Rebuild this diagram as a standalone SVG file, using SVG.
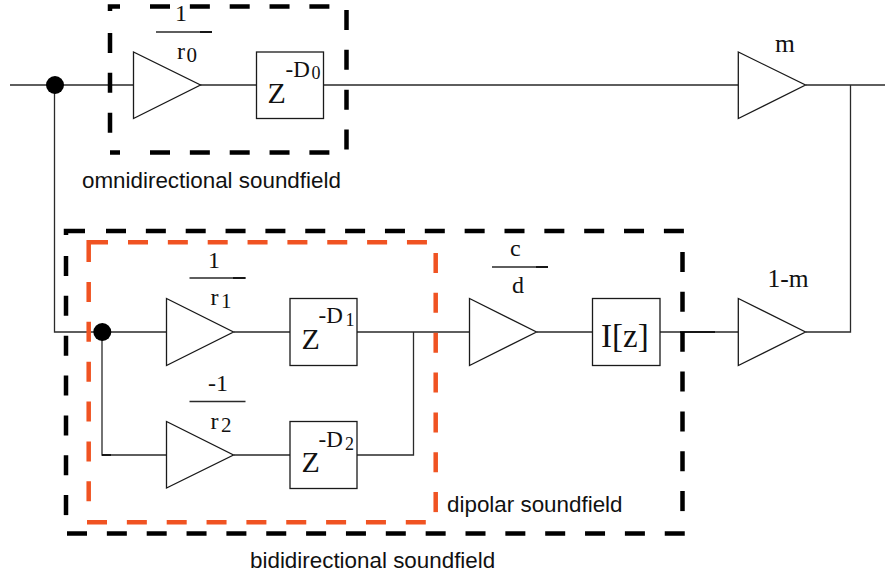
<svg xmlns="http://www.w3.org/2000/svg" width="885" height="578" viewBox="0 0 885 578">
<style>
.w{fill:none;stroke:#2a2a2a;stroke-width:1.3}
.d{fill:none;stroke:#000;stroke-width:1.6}
.s{fill:#fff;stroke:#1a1a1a;stroke-width:1.3}
.k{fill:none;stroke:#000;stroke-width:4.5;stroke-dasharray:20 19.85}
.r{fill:none;stroke:#f05322;stroke-width:4.5;stroke-dasharray:20 19.85}
.c{fill:none;stroke:#000;stroke-width:4.5}
.o{fill:none;stroke:#f05322;stroke-width:4.5}
text{fill:#111}
.t,.b,.e,.n,.q,.z,.i{font-family:"Liberation Serif","Times New Roman",serif}
.t{font-size:24px}
.b{font-size:25.500px}
.e{font-size:23px}
.n{font-size:18px}
.q{font-size:21px}
.z{font-size:30px}
.i{font-size:33px}
.l{font-family:"Liberation Sans",Arial,sans-serif;font-size:22.4px}
</style>
<g id="connectors">
<path class="w" d="M10 85H738M805.500 85H885M850.500 85V332H805.500"/>
<path class="w" d="M54.500 85V332H166.500M102 332V455H166.500"/>
<path class="w" d="M233.500 332H290M357 332H469.500M536.500 332H592.500M660 332H738"/>
<path class="w" d="M233.500 455H290M357 455H413.500V332"/>
<path class="w" d="M156 32H212M189.500 278H245.500M189.500 401.500H245.500M492 267H548"/>
<path class="d" d="M200 32H212M233 278H245.500M102 455H111M536 267H548M680 332H715"/>
</g>
<g id="junction-1"><circle cx="55" cy="85" r="9" fill="#000"/></g>
<g id="junction-2"><circle cx="102.300" cy="332" r="9" fill="#000"/></g>
<g id="frame-omni">
<path class="c" d="M110 11V6.500H120"/>
<path class="k" d="M150 6.500H335"/>
<path class="k" d="M346.500 10V151"/>
<path class="c" d="M110 152.500H120"/>
<path class="k" d="M150 152.500H335"/>
<path class="k" d="M110 33V133"/>
</g>
<g id="frame-bi">
<path class="c" d="M66 235V231H85"/>
<path class="k" d="M106 231H684"/>
<path class="k" d="M682.500 252V512"/>
<path class="k" d="M67 533.500H686"/>
<path class="k" d="M66 256V516"/>
</g>
<g id="frame-dipolar">
<path class="o" d="M88.700 262V242.300H108"/>
<path class="r" d="M128 242.300H428"/>
<path class="r" d="M435.700 253V514"/>
<path class="r" d="M87 522.300H427"/>
<path class="r" d="M88.700 282V503"/>
</g>
<g id="gain-r0"><path class="s" d="M133.500 52V118.500L200.500 85Z"/><text class="t" x="175" y="21">1</text><text class="t" x="177" y="59">r</text><text class="q" x="186.500" y="62">0</text></g>
<g id="delay-0"><rect class="s" x="256.500" y="52" width="67" height="66.500"/><text class="z" x="267.500" y="103">Z</text><text class="e" x="285.500" y="77">-D</text><text class="n" x="311.500" y="79">0</text></g>
<g id="gain-m"><path class="s" d="M738.300 52V118.500L805.500 85Z"/><text class="b" x="775" y="52">m</text></g>
<g id="gain-r1"><path class="s" d="M166.500 298.500V365.500L233.500 332Z"/><text class="t" x="208" y="268">1</text><text class="t" x="210.500" y="305">r</text><text class="q" x="221" y="308">1</text></g>
<g id="delay-1"><rect class="s" x="290" y="298.500" width="67" height="67"/><text class="z" x="301.500" y="349">Z</text><text class="e" x="318.500" y="323">-D</text><text class="n" x="345.500" y="326">1</text></g>
<g id="gain-r2"><path class="s" d="M166.500 421.500V488L233.500 455Z"/><text class="t" x="208" y="391">-1</text><text class="t" x="210.500" y="429">r</text><text class="q" x="221" y="432">2</text></g>
<g id="delay-2"><rect class="s" x="290" y="421.500" width="67" height="67"/><text class="z" x="301.500" y="472">Z</text><text class="e" x="318.500" y="447">-D</text><text class="n" x="345" y="450">2</text></g>
<g id="gain-cd"><path class="s" d="M469.500 298.500V365.500L536.500 332Z"/><text class="t" x="510" y="256">c</text><text class="t" x="512" y="293">d</text></g>
<g id="integrator"><rect class="s" x="592.500" y="298.500" width="67.500" height="67"/><text class="i" x="601" y="347">I[z]</text></g>
<g id="gain-1m"><path class="s" d="M738.300 298.500V365.500L805.500 332Z"/><text class="b" x="767.500" y="287">1-m</text></g>
<text class="l" id="label-omni" x="82" y="188">omnidirectional soundfield</text>
<text class="l" id="label-dipolar" x="447" y="512">dipolar soundfield</text>
<text class="l" id="label-bi" x="250" y="568">bididirectional soundfield</text>
</svg>
